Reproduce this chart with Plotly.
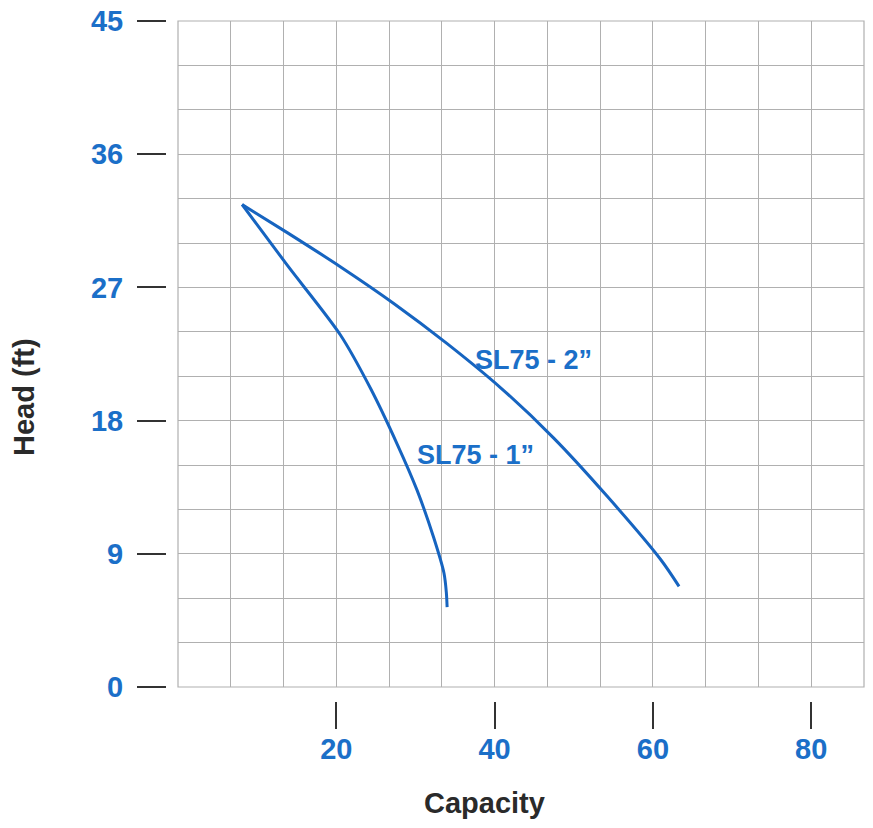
import plotly.graph_objects as go

# Data
cap_1in = [8.1, 13.8, 20.5, 24.3, 27.7, 30.2, 32.3, 33.6, 33.9, 34.0]
head_1in = [32.6, 28.5, 23.8, 20.2, 16.4, 13.3, 10.1, 7.7, 6.4, 5.4]

cap_2in = [8.1, 13.8, 20.5, 27.3, 34.0, 40.8, 47.5, 54.2, 61.0, 63.3]
head_2in = [32.6, 30.7, 28.4, 25.9, 23.2, 20.2, 16.8, 12.9, 8.6, 6.8]

x_ticks = [20, 40, 60, 80]
y_ticks = [0, 9, 18, 27, 36, 45]
labels = ["SL75 - 1\u201d", "SL75 - 2\u201d"]
label_pos = [(37.6, 15.7), (44.9, 22.1)]

BLUE_TXT = "#1b6fc8"
BLUE_LINE = "#1664c0"
GRID = "#b0b0b0"
FONT = "Liberation Sans"

# page has an 8px body margin; figure coordinates = page pixels - 8
W, H = 857, 812
PW = W - 1

fig = go.Figure()
fig.add_trace(go.Scatter(x=cap_1in, y=head_1in, mode="lines", name=labels[0],
                         line=dict(color=BLUE_LINE, width=3, shape="spline", smoothing=0.8)))
fig.add_trace(go.Scatter(x=cap_2in, y=head_2in, mode="lines", name=labels[1],
                         line=dict(color=BLUE_LINE, width=3, shape="spline", smoothing=0.8)))

for txt, (lx, ly) in zip(labels, label_pos):
    fig.add_annotation(x=lx, y=ly, xref="x", yref="y", text=txt, showarrow=False,
                       xanchor="center", yanchor="middle",
                       font=dict(family=FONT, size=27, color=BLUE_TXT, weight="bold"))

fig.add_annotation(x=477 / PW, y=(H - 795) / H, xref="paper", yref="paper",
                   text="Capacity", showarrow=False, xanchor="center", yanchor="middle",
                   font=dict(family=FONT, size=29, color="#2a2a2a", weight="bold"))
fig.add_annotation(x=16 / PW, y=(H - 389) / H, xref="paper", yref="paper",
                   text="Head (ft)", showarrow=False, textangle=-90,
                   xanchor="center", yanchor="middle",
                   font=dict(family=FONT, size=29, color="#2a2a2a", weight="bold"))

# plot frame
fig.add_shape(type="rect", xref="x domain", yref="y domain", x0=0, x1=1, y0=0, y1=1,
              line=dict(color=GRID, width=1.2), layer="below")

fig.update_layout(
    width=W, height=H,
    margin=dict(l=0, r=1, t=0, b=0, pad=0, autoexpand=False),
    plot_bgcolor="white", paper_bgcolor="white",
    showlegend=False,
    xaxis=dict(
        range=[0, 260 / 3], domain=[170 / PW, 1],
        anchor="free", position=(H - 693) / H,
        tickvals=x_ticks, ticks="outside", ticklen=27, tickwidth=1.5, tickcolor="#333",
        showline=False, zeroline=False,
        showgrid=True, gridcolor=GRID, gridwidth=1.2,
        minor=dict(dtick=20 / 3, tick0=0, showgrid=True, gridcolor=GRID, gridwidth=1.2, ticks=""),
        tickfont=dict(family=FONT, size=29, color=BLUE_TXT, weight="bold"),
        ticklabelstandoff=-5,
        ticklabeloverflow="allow",
        fixedrange=True,
    ),
    yaxis=dict(
        range=[0, 45], domain=[(H - 679) / H, (H - 13) / H],
        anchor="free", position=158 / PW,
        tickvals=y_ticks, ticks="outside", ticklen=29, tickwidth=1.5, tickcolor="#333",
        showline=False, zeroline=False,
        showgrid=True, gridcolor=GRID, gridwidth=1.2,
        minor=dict(dtick=3, tick0=0, showgrid=True, gridcolor=GRID, gridwidth=1.2, ticks=""),
        tickfont=dict(family=FONT, size=29, color=BLUE_TXT, weight="bold"),
        ticklabelstandoff=8,
        ticklabeloverflow="allow",
        fixedrange=True,
    ),
)

fig.write_html("out.html")
